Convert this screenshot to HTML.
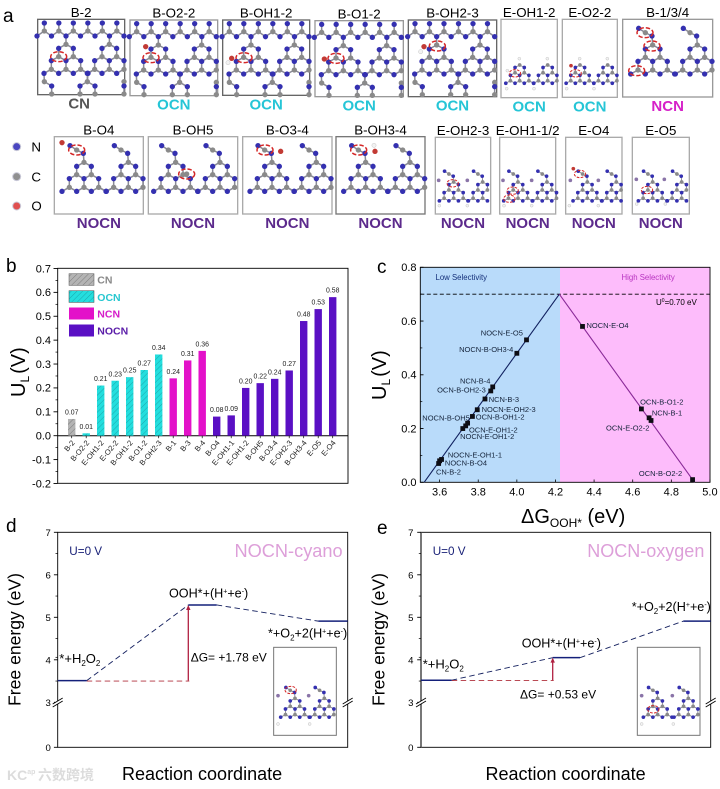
<!DOCTYPE html>
<html lang="en">
<head>
<meta charset="utf-8">
<title>Free energy and limiting potential chart panels</title>
<style>
html,body{margin:0;padding:0;background:#fff;}
svg{display:block;font-family:"Liberation Sans","Noto Sans CJK SC",sans-serif;}
</style>
</head>
<body>
<svg id="fig" width="720" height="789" viewBox="0 0 720 789" xmlns="http://www.w3.org/2000/svg">
<defs>
<pattern id="hatch-gray" width="4" height="4" patternUnits="userSpaceOnUse" patternTransform="rotate(45)"><rect width="4" height="4" fill="#b4b4b4"/><line x1="0" y1="0" x2="0" y2="4" stroke="#7c7c7c" stroke-width="1"/></pattern>
<pattern id="hatch-cyan" width="4" height="4" patternUnits="userSpaceOnUse" patternTransform="rotate(45)"><rect width="4" height="4" fill="#24dede"/><line x1="0" y1="0" x2="0" y2="4" stroke="#1ba8ac" stroke-width="1"/></pattern>
</defs>

<!-- panel letters -->
<text x="3" y="22" font-size="19">a</text>
<text x="6" y="272" font-size="19">b</text>
<text x="377" y="273" font-size="19">c</text>
<text x="6" y="532" font-size="19">d</text>
<text x="377" y="534" font-size="19">e</text>

<g id="panel-a"></g>

<!-- panel b -->
<g id="panel-b">
<rect x="57.7" y="268.3" width="290.3" height="215" fill="none" stroke="#000" stroke-width="0.9"/>
<text transform="translate(25,397) rotate(-90)" font-size="20">U<tspan font-size="12" dy="4">L</tspan><tspan dy="-4" dx="2">(V)</tspan></text>
<g>
<rect x="69" y="273.7" width="25" height="11.7" fill="url(#hatch-gray)" stroke="#555" stroke-width="0.5"/>
<text x="97.3" y="283.5" font-size="10.5" font-weight="bold" fill="#888">CN</text>
<rect x="69" y="290.7" width="25" height="11.7" fill="url(#hatch-cyan)" stroke="#444" stroke-width="0.5"/>
<text x="97.3" y="301" font-size="10.5" font-weight="bold" fill="#27c7d0">OCN</text>
<rect x="69" y="307.5" width="25" height="12" fill="#e311c9"/>
<text x="97.3" y="317.5" font-size="10.5" font-weight="bold" fill="#d51dc9">NCN</text>
<rect x="69" y="324.5" width="25" height="12" fill="#5a10c4"/>
<text x="97.3" y="334.7" font-size="10.5" font-weight="bold" fill="#5a1ca8">NOCN</text>
</g>
</g>

<!-- panel c -->
<g id="panel-c">
<rect x="420.3" y="267.3" width="139.7" height="215" fill="#b9dbfa"/>
<rect x="560" y="267.3" width="150" height="215" fill="#fdbcfb"/>
<rect x="420.3" y="267.3" width="289.7" height="215" fill="none" stroke="#000" stroke-width="0.9"/>
<text x="435.5" y="280" font-size="7.8" fill="#14307a">Low Selectivity</text>
<text x="621.5" y="280" font-size="7.8" fill="#b833c0">High Selectivity</text>
<text x="656" y="305" font-size="8">U<tspan font-size="5" dy="-3">0</tspan><tspan dy="3">=0.70 eV</tspan></text>
<text transform="translate(386,400) rotate(-90)" font-size="20">U<tspan font-size="12" dy="4">L</tspan><tspan dy="-4" dx="2">(V)</tspan></text>
<text x="521" y="523" font-size="20">ΔG<tspan font-size="12" dy="4">OOH*</tspan><tspan dy="-4"> (eV)</tspan></text>
</g>

<!-- panel d -->
<g id="panel-d">
<rect x="57.7" y="532.3" width="290" height="215" fill="none" stroke="#000" stroke-width="0.9"/>
<text transform="translate(20.5,706) rotate(-90)" font-size="17.6">Free energy (eV)</text>
<text x="122" y="780" font-size="18">Reaction coordinate</text>
<text x="69.3" y="555" font-size="11.7" fill="#1a2278">U=0 V</text>
<text x="234.5" y="557" font-size="18.2" fill="#dd9fd9">NOCN-cyano</text>
<text x="59.3" y="663" font-size="13">*+H<tspan font-size="8" dy="3">2</tspan><tspan dy="-3">O</tspan><tspan font-size="8" dy="3">2</tspan></text>
<text x="169" y="597.7" font-size="12.6">OOH*+(H<tspan font-size="7" dy="-4">+</tspan><tspan dy="4">+e</tspan><tspan font-size="7" dy="-4">-</tspan><tspan dy="4">)</tspan></text>
<text x="268" y="637.7" font-size="12.6">*+O<tspan font-size="8" dy="3">2</tspan><tspan dy="-3">+2(H</tspan><tspan font-size="7" dy="-4">+</tspan><tspan dy="4">+e</tspan><tspan font-size="7" dy="-4">-</tspan><tspan dy="4">)</tspan></text>
<text x="190.7" y="661.7" font-size="12">ΔG= +1.78 eV</text>
</g>

<!-- panel e -->
<g id="panel-e">
<rect x="421" y="532.3" width="289.7" height="215" fill="none" stroke="#000" stroke-width="0.9"/>
<line x1="421" y1="532.3" x2="421" y2="747.3" stroke="#555" stroke-width="1.6"/>
<text transform="translate(384.5,706) rotate(-90)" font-size="17.6">Free energy (eV)</text>
<text x="485.5" y="780" font-size="18">Reaction coordinate</text>
<text x="432.7" y="555" font-size="11.7" fill="#1a2278">U=0 V</text>
<text x="587.3" y="557" font-size="18" fill="#dd9fd9">NOCN-oxygen</text>
<text x="422.7" y="668.3" font-size="13">*+H<tspan font-size="8" dy="3">2</tspan><tspan dy="-3">O</tspan><tspan font-size="8" dy="3">2</tspan></text>
<text x="521.7" y="647.7" font-size="12.6">OOH*+(H<tspan font-size="7" dy="-4">+</tspan><tspan dy="4">+e</tspan><tspan font-size="7" dy="-4">-</tspan><tspan dy="4">)</tspan></text>
<text x="631.7" y="611" font-size="12.6">*+O<tspan font-size="8" dy="3">2</tspan><tspan dy="-3">+2(H</tspan><tspan font-size="7" dy="-4">+</tspan><tspan dy="4">+e</tspan><tspan font-size="7" dy="-4">-</tspan><tspan dy="4">)</tspan></text>
<text x="520" y="698.3" font-size="12">ΔG= +0.53 eV</text>
</g>

<g>
<text x="7" y="780" font-size="14" font-weight="bold" fill="#dcdcdc">KC<tspan font-size="7" dy="-6">ap</tspan></text>
<text x="38" y="780" font-size="14" fill="#dcdcdc" font-weight="bold">六数跨境</text>
</g>
</svg>

<script>
/* ---------- chart data ---------- */
const barCategories = ["B-2","B-O2-2","E-OH1-2","E-O2-2","B-OH1-2","B-O1-2","B-OH2-3","B-1","B-3","B-4","B-O4","E-OH1-1","E-OH1-2","B-OH5","B-O3-4","E-OH2-3","B-OH3-4","E-O5","E-O4"];
const barValues = [0.07,0.01,0.21,0.23,0.245,0.275,0.34,0.24,0.315,0.355,0.08,0.085,0.20,0.22,0.238,0.273,0.48,0.53,0.58];
const barPrinted = ["0.07","0.01","0.21","0.23","0.25","0.27","0.34","0.24","0.31","0.36","0.08","0.09","0.20","0.22","0.24","0.27","0.48","0.53","0.58"];
const barGroups = ["CN","OCN","OCN","OCN","OCN","OCN","OCN","NCN","NCN","NCN","NOCN","NOCN","NOCN","NOCN","NOCN","NOCN","NOCN","NOCN","NOCN"];
const barTicks = ["0.7","0.6","0.5","0.4","0.3","0.2","0.1","0.0","-0.1","-0.2"];

const scatterNames = ["CN-B-2","NOCN-B-O4","NOCN-E-OH1-1","NOCN-E-OH1-2","OCN-E-OH1-2","NOCN-B-OH5","OCN-B-OH1-2","NOCN-E-OH2-3","NCN-B-3","OCN-B-OH2-3","NCN-B-4","NOCN-B-OH3-4","NOCN-E-O5","NOCN-E-O4","OCN-B-O1-2","NCN-B-1","OCN-E-O2-2","OCN-B-O2-2"];
const scatterDeltaG = [3.595,3.60,3.61,3.72,3.735,3.745,3.77,3.795,3.835,3.865,3.875,4.0,4.05,4.34,4.645,4.685,4.695,4.91];
const scatterUL = [0.07,0.08,0.085,0.20,0.21,0.22,0.245,0.27,0.31,0.34,0.355,0.48,0.53,0.58,0.273,0.24,0.23,0.01];
const volcanoLineX = [3.52,4.22,4.92];
const volcanoLineY = [0,0.70,0];
const equilibriumU = 0.70;
const volcanoXTicks = [3.6,3.8,4.0,4.2,4.4,4.6,4.8,5.0];
const volcanoYTicks = [0,0.2,0.4,0.6,0.8];

const energyTicks = [7,6,5,4,3,0];
const energyCyano = [3.51,5.29,4.91];
const energyOxygen = [3.52,4.05,4.91];

/* ---------- helpers ---------- */
const NS = "http://www.w3.org/2000/svg";
function mk(parent, tag, attrs) {
  const e = document.createElementNS(NS, tag);
  for (const k in attrs) e.setAttribute(k, attrs[k]);
  parent.appendChild(e);
  return e;
}
function txt(parent, x, y, s, size, extra) {
  const e = mk(parent, "text", Object.assign({x: x, y: y, "font-size": size}, extra || {}));
  e.textContent = s;
  return e;
}
function slug(s) { return s.toLowerCase().replace(/[^a-z0-9]+/g, "-"); }

/* ---------- panel b ---------- */
const pb = document.getElementById("panel-b");
const xB = i => 71.7 + i * 14.5;
const yB = v => 435.7 - v * 238.9;
const barFill = {CN:"url(#hatch-gray)", OCN:"url(#hatch-cyan)", NCN:"#e311c9", NOCN:"#5a10c4"};
barTicks.forEach(t => {
  const v = parseFloat(t);
  const tick = mk(pb, "line", {x1:53.5, x2:57.7, y1:yB(v), y2:yB(v), stroke:"#000", "stroke-width":0.9});
  
  
  const label = txt(pb, 51, yB(v) + 3.8, t, 11, {"text-anchor":"end"});
  
  
  if (v > -0.2) {
    const minor = mk(pb, "line", {x1:55.5, x2:57.7, y1:yB(v - 0.05), y2:yB(v - 0.05), stroke:"#000", "stroke-width":0.7});
    
    
  }
});
const zeroLine = mk(pb, "line", {x1:57.7, x2:348, y1:yB(0), y2:yB(0), stroke:"#000", "stroke-width":1});


barValues.forEach((v, i) => {
  const bar = mk(pb, "rect", {x:xB(i) - 3.7, y:yB(v), width:7.4, height:yB(0) - yB(v), fill:barFill[barGroups[i]]});
  
  
  const val = txt(pb, xB(i), yB(v) - 4.5, barPrinted[i], 6.9, {"text-anchor":"middle", fill:"#222"});
  
  
  const tick = mk(pb, "line", {x1:xB(i), x2:xB(i), y1:yB(0), y2:yB(0) + 2.5, stroke:"#000", "stroke-width":0.7});
  
  
  const cat = txt(pb, 0, 0, barCategories[i], 7.6, {"text-anchor":"end", transform:"translate(" + (xB(i) + 3.5) + ",443) rotate(-50)", fill:"#222"});
  
  
});

/* ---------- panel c ---------- */
const pc = document.getElementById("panel-c");
const xC = v => 420.3 + (v - 3.5) * 193.1;
const yC = u => 482.3 - u * 268.75;
const labelPlacement = {
  "CN-B-2":[-2.7,11.2],"NOCN-B-O4":[5.3,4.5],"NOCN-E-OH1-1":[6.3,-2.2],"NOCN-E-OH1-2":[-2.7,10.2],
  "OCN-E-OH1-2":[3.3,6.5],"NOCN-B-OH5":[-45.3,-2.5],"OCN-B-OH1-2":[3.3,3.2],"NOCN-E-OH2-3":[4.3,2.5],
  "NCN-B-3":[3.7,3.2],"OCN-B-OH2-3":[-53.7,1.5],"NCN-B-4":[-32.7,-3.5],"NOCN-B-OH3-4":[-57.7,-1.5],
  "NOCN-E-O5":[-45.7,-4.5],"NOCN-E-O4":[4,1.8],"OCN-B-O1-2":[-1.3,-4.5],"NCN-B-1":[2.7,-2.5],
  "OCN-E-O2-2":[-45,9.8],"OCN-B-O2-2":[-53.7,-3.8]
};
const dashed = mk(pc, "line", {x1:xC(3.5), x2:xC(5.0), y1:yC(equilibriumU), y2:yC(equilibriumU), stroke:"#000", "stroke-width":0.9, "stroke-dasharray":"4 2.5"});


const leftLine = mk(pc, "line", {x1:xC(volcanoLineX[0]), y1:yC(volcanoLineY[0]), x2:xC(volcanoLineX[1]), y2:yC(volcanoLineY[1]), stroke:"#10205f", "stroke-width":1.1});


const rightLine = mk(pc, "line", {x1:xC(volcanoLineX[1]), y1:yC(volcanoLineY[1]), x2:xC(volcanoLineX[2]), y2:yC(volcanoLineY[2]), stroke:"#8a2a98", "stroke-width":1.1});


volcanoXTicks.forEach(v => {
  const t = mk(pc, "line", {x1:xC(v), x2:xC(v), y1:482.3, y2:479.5, stroke:"#000", "stroke-width":0.8});
  
  
  const l = txt(pc, xC(v), 495.5, v.toFixed(1), 11, {"text-anchor":"middle"});
  
  
});
volcanoYTicks.forEach(u => {
  const t = mk(pc, "line", {x1:420.3, x2:423.5, y1:yC(u), y2:yC(u), stroke:"#000", "stroke-width":0.9});
  
  
  const l = txt(pc, 416.5, yC(u) + 3.8, u.toFixed(1), 11, {"text-anchor":"end"});
  
  
  if (u < 0.8) {
    const m = mk(pc, "line", {x1:420.3, x2:422.3, y1:yC(u + 0.1), y2:yC(u + 0.1), stroke:"#000", "stroke-width":0.7});
    
    
  }
});
scatterNames.forEach((name, i) => {
  const px = xC(scatterDeltaG[i]), py = yC(scatterUL[i]);
  const pt = mk(pc, "rect", {x:px - 2.4, y:py - 2.4, width:4.8, height:4.8, fill:"#0d0d14"});
  
  
  const off = labelPlacement[name];
  const l = txt(pc, px + off[0], py + off[1], name, 7.5, {fill:"#14233a"});
  
  
});

/* ---------- panels d & e ---------- */
const yE = v => v >= 3 ? 532.3 + (7 - v) * 42.5 : 747.3 - v * 45;
function energyPanel(id, energies, left, right, labelX, spans, outward, prefix) {
  const p = document.getElementById(id);
  energyTicks.forEach(v => {
    const t = mk(p, "line", {x1:left - 3.8, x2:left, y1:yE(v), y2:yE(v), stroke:"#000", "stroke-width":0.9});
    
    
    const l = txt(p, labelX, yE(v) + 3.5, String(v), 9.6, {"text-anchor":"end"});
    
    
  });
  [6.5,5.5,4.5,3.5,2,1].forEach(v => {
    const m = mk(p, "line", {x1:left - 2.2, x2:left, y1:yE(v), y2:yE(v), stroke:"#000", "stroke-width":0.7});
    
    
  });
  /* axis breaks */
  [left, right].forEach(bx => {
    const gap = mk(p, "rect", {x:bx - 2.5, y:701, width:5, height:3, fill:"#fff"});
    
    
    [0, 3].forEach(d => {
      const s = mk(p, "line", {x1:bx - 5, y1:704 + d, x2:bx + 5, y2:698 + d, stroke:"#000", "stroke-width":0.9});
      
      
    });
  });
  /* dashed connectors */
  for (let i = 0; i < 2; i++) {
    const c = mk(p, "line", {x1:spans[i][1], y1:yE(energies[i]), x2:spans[i + 1][0], y2:yE(energies[i + 1]), stroke:"#14205f", "stroke-width":0.9, "stroke-dasharray":"5.5 3.5"});
    
    
  }
  /* reference dashed and arrow */
  const ax = spans[1][0];
  const refLine = mk(p, "line", {x1:spans[0][1], y1:yE(energies[0]) + 0.4, x2:ax + 1, y2:yE(energies[0]) + 0.4, stroke:"#b0303c", "stroke-width":0.9, "stroke-dasharray":"5.5 3.5"});
  
  
  const arrow = mk(p, "line", {x1:ax, y1:yE(energies[0]), x2:ax, y2:yE(energies[1]) + 3, stroke:"#b02040", "stroke-width":1.3});
  
  
  const tip = yE(energies[1]);
  const head = mk(p, "polygon", {points:(ax - 2.2) + "," + (tip + 5) + " " + (ax + 2.2) + "," + (tip + 5) + " " + ax + "," + tip, fill:"#b02040"});
  
  
  /* levels */
  energies.forEach((v, i) => {
    const lv = mk(p, "line", {x1:spans[i][0], x2:spans[i][1], y1:yE(v), y2:yE(v), stroke:"#14207a", "stroke-width":1.5});
    
    
  });
}
energyPanel("panel-d", energyCyano, 57.7, 347.7, 50.8, [[57.7,86.7],[188.3,216.7],[318.3,347.7]], true, "cyano");
energyPanel("panel-e", energyOxygen, 421, 710.7, 413.5, [[421,451.7],[552.7,580],[683.3,710.7]], true, "oxygen");

/* ---------- panel a: atomistic sketches (coordinates are 3x pixel units) ---------- */
const pa = document.getElementById("panel-a");
const stage = mk(pa, "g", {transform:"scale(0.33333)"});


const COL = {N:"#3430b0", C:"#8a8a8a", O:"#c23a34", H:"#f2f2f2", G:"#8a74a8"};
const TRI = [["C",0,0],["N",-22,12],["N",22,12],["C",-22,37],["C",22,37],["N",-44,49],["N",0,49],["N",44,49],["C",-44,75],["C",0,75],["C",44,75],["N",-66,87],["N",-22,87],["N",22,87],["N",66,87]];
const TAIL = [["N",-2,-27],["C",-22,-37],["N",-42,-50]];
function triAtoms(ax, ay, s, tail) {
  const list = TRI.concat(tail ? TAIL : []);
  return list.map(a => [a[0], ax + a[1] * s, ay + a[2] * s]);
}
function sheetAtoms(ox, oy) {
  const out = [];
  for (let k = 0; k < 6; k++) {
    out.push(["N", ox + 133 + 43.5 * k, oy + 69]);
    out.push(["C", ox + 133 + 43.5 * k, oy + 93]);
  }
  for (let k = 0; k < 7; k++) out.push(["N", ox + 111 + 43.5 * k, oy + 108]);
  triAtoms(ox + 198, oy + 133, 1, false).forEach(a => out.push(a));
  triAtoms(ox + 328, oy + 133, 1, false).forEach(a => out.push(a));
  [[133,245],[262,245],[372,245],[155,282],[240,282],[285,282],[372,282]].forEach(p => out.push(["C", ox + p[0], oy + p[1]]));
  [[155,258],[240,258],[285,258],[372,258]].forEach(p => out.push(["N", ox + p[0], oy + p[1]]));
  return out;
}
const boxes = [
  {t:"B-2",x:113,y:58,w:261,h:226,k:"CN",st:"#666",atoms:() => sheetAtoms(0,0),hl:[[176,170]],ex:[]},
  {t:"B-O2-2",x:390,y:60,w:263,h:227,k:"OCN",st:"#999",atoms:() => sheetAtoms(277,2),hl:[[453,173]],ex:[["O",437,140]]},
  {t:"B-OH1-2",x:668,y:60,w:261,h:226,k:"OCN",st:"#666",atoms:() => sheetAtoms(555,2),hl:[[732,173]],ex:[["O",695,175],["H",684,188]]},
  {t:"B-O1-2",x:945,y:62,w:265,h:228,k:"OCN",st:"#999",atoms:() => sheetAtoms(832,4),hl:[[1008,175]],ex:[["O",973,177]]},
  {t:"B-OH2-3",x:1225,y:60,w:265,h:230,k:"OCN",st:"#666",atoms:() => sheetAtoms(1112,2),hl:[[1312,138]],ex:[["O",1272,140],["H",1262,155]]},
  {t:"E-OH1-2",x:1503,y:58,w:169,h:235,k:"OCN",st:"#aaa",atoms:() => triAtoms(1559,195,0.63,false).concat(triAtoms(1643,195,0.63,false)),hl:[[1545,220]],ex:[["H",1558,176],["H",1642,176],["H",1522,212],["H",1520,266],["H",1602,266]],small:1},
  {t:"E-O2-2",x:1687,y:58,w:165,h:234,k:"OCN",st:"#aaa",atoms:() => triAtoms(1740,195,0.63,false).concat(triAtoms(1823,195,0.63,false)),hl:[[1727,220]],ex:[["O",1713,197],["H",1739,176],["H",1822,176],["H",1700,266],["H",1782,266]],small:1},
  {t:"B-1/3/4",x:1868,y:58,w:270,h:233,k:"NCN",st:"#999",atoms:() => triAtoms(1958,135,1,true).concat(triAtoms(2092,135,1,true)),hl:[[1935,98],[1956,138],[1910,212]],ex:[]},
  {t:"B-O4",x:163,y:410,w:267,h:232,k:"NOCN",st:"#aaa",atoms:() => triAtoms(252,487,1,true).concat(triAtoms(385,487,1,true)),hl:[[230,450]],ex:[["O",186,428]]},
  {t:"B-OH5",x:445,y:410,w:268,h:232,k:"NOCN",st:"#aaa",atoms:() => triAtoms(527,487,1,true).concat(triAtoms(660,487,1,true)),hl:[[560,522]],ex:[["C",560,522]]},
  {t:"B-O3-4",x:728,y:410,w:268,h:232,k:"NOCN",st:"#aaa",atoms:() => triAtoms(816,487,1,true).concat(triAtoms(949,487,1,true)),hl:[[795,450]],ex:[["O",842,454]]},
  {t:"B-OH3-4",x:1008,y:410,w:267,h:232,k:"NOCN",st:"#777",atoms:() => triAtoms(1097,487,1,true).concat(triAtoms(1230,487,1,true)),hl:[[1076,450]],ex:[["O",1125,454],["H",1122,436]]},
  {t:"E-OH2-3",x:1306,y:412,w:166,h:230,k:"NOCN",st:"#aaa",atoms:() => triAtoms(1361,546,0.65,true).concat(triAtoms(1448,546,0.65,true)),hl:[[1358,550]],ex:[["G",1316,541],["G",1402,541],["H",1318,617],["H",1402,617]],small:1},
  {t:"E-OH1-1/2",x:1499,y:412,w:168,h:230,k:"NOCN",st:"#aaa",atoms:() => triAtoms(1554,546,0.65,true).concat(triAtoms(1641,546,0.65,true)),hl:[[1538,572],[1528,596]],ex:[["G",1509,541],["G",1595,541],["H",1512,617],["H",1595,617]],small:1},
  {t:"E-O4",x:1697,y:412,w:169,h:230,k:"NOCN",st:"#aaa",atoms:() => triAtoms(1762,546,0.65,true).concat(triAtoms(1849,546,0.65,true)),hl:[[1740,522]],ex:[["O",1720,506],["G",1711,541],["G",1795,541],["H",1708,617],["H",1795,617]],small:1},
  {t:"E-O5",x:1897,y:412,w:171,h:230,k:"NOCN",st:"#aaa",atoms:() => triAtoms(1958,546,0.65,true).concat(triAtoms(2045,546,0.65,true)),hl:[[1941,570]],ex:[["G",1909,538],["G",1993,538],["H",1910,612],["H",1996,612]],small:1}
];
const inkColor = {CN:"#555555", OCN:"#25c5d6", NCN:"#d620c8", NOCN:"#5c2a8c"};

function drawAtoms(g, atoms, ex, hl, r) {
  const small = r < 7;
  const bondMax = small ? 20.5 : 31;
  for (let i = 0; i < atoms.length; i++) {
    for (let j = i + 1; j < atoms.length; j++) {
      const dx = atoms[i][1] - atoms[j][1], dy = atoms[i][2] - atoms[j][2];
      if (atoms[i][0] !== atoms[j][0] && Math.hypot(dx, dy) < bondMax) {
        const b = mk(g, "line", {x1:atoms[i][1], y1:atoms[i][2], x2:atoms[j][1], y2:atoms[j][2], stroke:"#8a8a96", "stroke-width":small ? 2.8 : 4.5});
        
        
      }
    }
  }
  atoms.concat(ex).forEach(a => {
    const c = mk(g, "circle", {cx:a[1], cy:a[2], r:a[0] === "H" ? r * 0.8 : r, fill:COL[a[0]], stroke:a[0] === "H" ? "#aaa" : "none", "stroke-width":1});
    
    
  });
  hl.forEach(h => {
    const e = mk(g, "ellipse", {cx:h[0], cy:h[1], rx:small ? 17 : 24, ry:small ? 11 : 15, fill:"none", stroke:"#d42828", "stroke-width":small ? 3 : 4.5, "stroke-dasharray":small ? "8 4" : "13 6"});
    
    
  });
}

boxes.forEach(b => {
  const g = mk(stage, "g", {});
  
  
  const frame = mk(g, "rect", {x:b.x, y:b.y, width:b.w, height:b.h, fill:"#fff", stroke:b.st, "stroke-width":4});
  
  
  const r = b.small ? 5.5 : 8;
  const inside = b.atoms().filter(a => a[1] >= b.x - 4 && a[1] <= b.x + b.w + 4);
  drawAtoms(g, inside, b.ex, b.hl, r);
  const cx = b.x + b.w / 2;
  const title = txt(g, cx, b.y - 7, b.t, 40, {"text-anchor":"middle"});
  
  
  const kind = txt(g, cx - (b.k === "CN" ? 6 : 0), b.y + b.h + 42, b.k, 45, {"text-anchor":"middle", "font-weight":"bold", fill:inkColor[b.k]});
  
  
});

/* element legend */
[["N",440,"#4a46c0"],["C",530,"#909090"],["O",618,"#e05050"]].forEach(it => {
  const halo = mk(stage, "circle", {cx:50, cy:it[1], r:12, fill:it[2], stroke:"#c9c9d8", "stroke-width":3});
  
  
  const t = txt(stage, 94, it[1] + 14, it[0], 40, {});
  
  
});

/* insets in d and e */
function inset(parentId, name, bx, by, a1, a2, hlPos) {
  const p = document.getElementById(parentId);
  const g = mk(p, "g", {transform:"scale(0.33333)"});
  
  
  const fr = mk(g, "rect", {x:bx, y:by, width:188, height:264, fill:"#fff", stroke:"#777", "stroke-width":3});
  
  
  const atoms = triAtoms(a1, by + 153, 0.65, true).concat(triAtoms(a2, by + 153, 0.65, true)).filter(a => a[1] <= bx + 190);
  drawAtoms(g, atoms, [["G", bx + 13, by + 145], ["G", bx + 105, by + 145], ["H", bx + 13, by + 230], ["H", bx + 108, by + 230]], [hlPos], 5.5);
}
inset("panel-d", "cyano-inset-structure", 821, 1942, 885, 973, [872, 2070]);
inset("panel-e", "oxygen-inset-structure", 1912, 1942, 1973, 2065, [1960, 2128]);
</script>
</body>
</html>
